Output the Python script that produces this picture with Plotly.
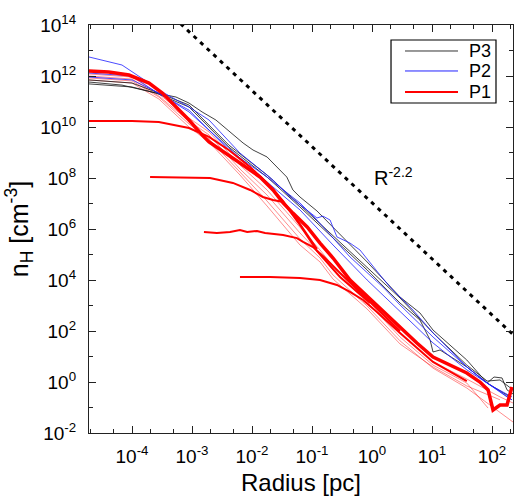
import plotly.graph_objects as go

# ---- data (radius in pc, n_H in cm^-3) ----
# P1: main (thick) profile
p1_main_r = [1.9e-5, 4.1e-5, 8.9e-5, 1.92e-4, 3.2e-4, 5.4e-4, 8.9e-4, 1.47e-3, 1.92e-3, 6.3e-3,
             1.36e-2, 2.24e-2, 3.3e-2, 4.8e-2, 8.3e-2, 0.136, 0.224, 0.43, 0.93, 2.93, 5.6, 10.4,
             20, 38, 63, 86, 104, 136, 178, 215]
p1_main_n = [1.57e12, 1.44e12, 1.09e12, 5.3e11, 2.15e11, 6.1e10, 1.88e10, 4.9e9, 2.58e9, 3.9e8,
             1.09e8, 3.4e7, 1.05e7, 4.2e6, 1.2e6, 2.8e5, 7.3e4, 1.0e4, 1.8e3, 144, 34, 9.5,
             4.6, 2.25, 1.0, 0.49, 0.08, 0.125, 0.125, 0.64]

# P1: truncated profiles (plateaus at 1e10, 1e8, 7e5, 1e4)
p1_a_r = [1.9e-5, 1e-4, 2.8e-4, 8.9e-4, 1.92e-3, 4.1e-3, 9.3e-3, 1.78e-2, 3.3e-2, 6.3e-2, 0.121]
p1_a_n = [1.72e10, 1.72e10, 1.57e10, 9.1e9, 4.1e9, 1.25e9, 2.7e8, 6.4e7, 1.25e7, 1.57e6, 1.64e5]

p1_b_r = [2.0e-4, 2.0e-3, 4.8e-3, 9.3e-3, 1.52e-2, 2.24e-2, 3.3e-2, 6.3e-2, 0.121, 0.293, 0.93]
p1_b_n = [1.09e8, 1.0e8, 6.4e7, 3.4e7, 1.8e7, 1.37e7, 1.15e7, 1.44e6, 1.37e5, 1.31e4, 1.25e3]

p1_c_r = [1.58e-3, 2.6e-3, 4.3e-3, 6.3e-3, 8.3e-3, 1.21e-2, 1.65e-2, 3.3e-2, 5.6e-2, 7.1e-2,
          0.104, 0.165, 0.293, 0.93, 2.93]
p1_c_n = [7.6e5, 7.0e5, 7.6e5, 9.1e5, 7.6e5, 8.4e5, 7.0e5, 5.8e5, 4.4e5, 3.1e5,
          1.97e5, 7.3e4, 1.88e4, 1.37e3, 100]

p1_d_r = [6.3e-3, 2.0e-2, 6.3e-2, 0.136, 0.26, 0.43, 0.71, 1.21, 2.93, 10.4, 38]
p1_d_n = [1.31e4, 1.31e4, 1.2e4, 1.0e4, 6.4e3, 3.4e3, 1.64e3, 560, 84, 6.1, 1.09]

# P1: faint profiles
p1_f1_r = [1.9e-5, 1e-4, 2.8e-4, 8.9e-4, 1.92e-3, 6.3e-3, 1.78e-2, 6.3e-2, 0.136, 0.224, 0.83, 2.93, 10.4, 38, 136, 224]
p1_f1_n = [1.2e12, 9.1e11, 1.97e11, 2.25e10, 6.4e9, 3.2e8, 3.4e7, 1.2e6, 1.5e5, 3.5e4, 1.97e3, 84, 6.1, 1.31, 0.26, 0.15]
p1_f2_r = [1.9e-5, 1e-4, 2.8e-4, 8.9e-4, 1.92e-3, 6.3e-3, 1.78e-2, 6.3e-2, 0.136, 0.224, 0.83, 2.93, 10.4, 38, 86]
p1_f2_n = [1.0e12, 7.6e11, 1.64e11, 1.72e10, 4.9e9, 2.25e8, 2.15e7, 7.0e5, 1.05e5, 2.47e4, 1.37e3, 58, 4.6, 0.91, 0.095]
p1_f3_r = [1.9e-5, 1e-4, 2.8e-4, 8.9e-4, 1.92e-3, 6.3e-3, 1.78e-2, 6.3e-2, 0.136, 0.224, 0.83, 2.93, 10.4, 38, 224]
p1_f3_n = [8.4e11, 6.4e11, 1.5e11, 1.31e10, 3.4e9, 1.72e8, 1.25e7, 4.1e5, 7.3e4, 1.57e4, 955, 41, 3.5, 0.58, 0.027]
p1_f4_r = [1.9e-5, 1e-4, 2.8e-4, 8.9e-4, 1.92e-3, 6.3e-3, 1.78e-2, 6.3e-2, 0.136, 0.224, 0.83, 2.93, 10.4, 38, 136]
p1_f4_n = [7.0e11, 5.3e11, 1.25e11, 1.0e10, 2.58e9, 1.31e8, 8.0e6, 2.36e5, 5.1e4, 1.09e4, 730, 31, 3.9, 0.7, 0.2]

# P2 (blue)
p2_1_r = [1.9e-5, 6.8e-5, 1.92e-4, 3.2e-4, 8.9e-4, 1.92e-3, 6.3e-3, 2.24e-2, 4.3e-2, 8.3e-2, 0.121,
          0.152, 0.2, 0.26, 0.43, 0.63, 0.93, 1.36, 2.0, 2.93, 4.8, 10.4, 20, 38, 71, 104, 215]
p2_1_n = [5.6e12, 2.7e12, 5.3e11, 2.36e11, 6.1e10, 1.88e10, 9.5e8, 8.4e7, 1.8e7, 5.6e6, 2.7e6,
          3.2e6, 2.25e6, 4.9e5, 2.8e5, 1.5e5, 4.6e4, 1.57e4, 5.3e3, 2.15e3, 670, 84, 18, 3.9, 1.2, 0.64, 0.2]
p2_2_r = [1.9e-5, 1e-4, 2.5e-4, 8.9e-4, 4.1e-3, 1.78e-2, 6.3e-2, 0.121, 0.43, 1.52, 2.93, 10.4, 38, 83, 178, 215]
p2_2_n = [1.31e12, 1.0e12, 2.36e11, 4.6e10, 1.25e9, 1.09e8, 1.05e7, 2.25e6, 8.0e4, 5.3e3, 1.05e3, 58, 3.9, 0.91, 0.26, 0.2]
p2_3_r = [1.9e-5, 1e-4, 2.8e-4, 8.9e-4, 4.1e-3, 1.78e-2, 6.3e-2, 0.224, 0.83, 2.93, 10.4, 38, 93, 215]
p2_3_n = [9.1e11, 7.0e11, 2.15e11, 3.9e10, 1.5e9, 7.0e7, 5.6e6, 2.36e5, 1.0e4, 560, 34, 3.0, 0.76, 0.26]

# P3 (black)
p3_1_r = [1.9e-5, 6.8e-5, 2.5e-4, 5.4e-4, 8.9e-4, 1.47e-3, 2.5e-3, 4.8e-3, 7.1e-3, 1.04e-2, 1.78e-2,
          2.6e-2, 3.8e-2, 4.8e-2, 6.3e-2, 0.121, 0.224, 0.43, 0.83, 2.93, 6.3, 10.4, 38, 83, 108, 147, 178, 224]
p3_1_n = [5.8e11, 4.4e11, 2.15e11, 1.5e11, 8.7e10, 3.9e10, 1.88e10, 4.9e9, 2.36e9, 1.25e9, 6.7e8,
          2.7e8, 1.09e8, 3.4e7, 1.8e7, 5.1e6, 1.2e6, 2.36e5, 5.1e4, 2.15e3, 510, 109, 7.3, 0.91, 1.57, 1.44, 0.49, 0.34]
p3_2_r = [1.9e-5, 1e-4, 2.5e-4, 8.9e-4, 4.1e-3, 1.78e-2, 6.3e-2, 0.224, 0.83, 2.93, 6.3, 9.3, 10.4, 13.6, 38, 83, 200]
p3_2_n = [4.9e11, 3.7e11, 2.15e11, 6.1e10, 1.64e9, 1.09e8, 7.3e6, 4.4e5, 2.47e4, 1.25e3, 270, 44, 15, 18, 3.9, 0.91, 0.26]
p3_3_r = [1.9e-5, 1e-4, 2.8e-4, 8.9e-4, 4.1e-3, 1.78e-2, 6.3e-2, 0.224, 0.83, 2.93, 10.4, 38, 83, 136, 224]
p3_3_n = [7.0e11, 5.3e11, 2.15e11, 7.3e10, 1.97e9, 1.31e8, 8.7e6, 5.3e5, 3.0e4, 1.97e3, 84, 4.6, 1.09, 1.2, 0.49]

# R^-2.2 guide line end points
guide_r = [5e-4, 250]
guide_n = [1.96e14, 57]

y_exp = [-2, 0, 2, 4, 6, 8, 10, 12, 14]
x_exp = [-4, -3, -2, -1, 0, 1, 2]

legend_names = ["P3", "P2", "P1"]

FONT = "Liberation Sans, Arial, sans-serif"

fig = go.Figure()


def add(r, n, color, width, name=None):
    fig.add_trace(go.Scatter(
        x=r, y=n, mode="lines", line=dict(color=color, width=width),
        name=name or "", showlegend=False, hoverinfo="skip"))


faint_red = "rgba(255,0,0,0.45)"
for r, n in [(p1_f1_r, p1_f1_n), (p1_f2_r, p1_f2_n), (p1_f3_r, p1_f3_n), (p1_f4_r, p1_f4_n)]:
    add(r, n, faint_red, 1, "P1")

black = "rgba(20,20,20,0.8)"
add(p3_1_r, p3_1_n, black, 1, "P3")
add(p3_2_r, p3_2_n, black, 1, "P3")
add(p3_3_r, p3_3_n, black, 1, "P3")

blue = "rgba(30,30,255,0.8)"
add(p2_1_r, p2_1_n, blue, 1, "P2")
add(p2_2_r, p2_2_n, blue, 1, "P2")
add(p2_3_r, p2_3_n, blue, 1, "P2")

red = "#ff0000"
add(p1_a_r, p1_a_n, red, 2, "P1")
add(p1_b_r, p1_b_n, red, 2, "P1")
add(p1_c_r, p1_c_n, red, 2, "P1")
add(p1_d_r, p1_d_n, red, 2, "P1")
add(p1_main_r, p1_main_n, red, 3.5, "P1")

fig.add_trace(go.Scatter(
    x=guide_r, y=guide_n, mode="lines", showlegend=False, hoverinfo="skip",
    line=dict(color="black", width=3, dash="4px,5px")))

fig.add_annotation(x=0, y=8.05, xref="x", yref="y", text="R<sup>-2.2</sup>",
                   showarrow=False, xanchor="left", yanchor="middle",
                   font=dict(family=FONT, size=20, color="black"))

# boxed legend in the top-right corner (paper coordinates)
fig.add_shape(type="rect", xref="paper", yref="paper", x0=0.7123, x1=0.9599, y0=0.8088, y1=0.9632,
              line=dict(color="black", width=1.2), fillcolor="white", layer="above")
for name, color, width, yp in zip(legend_names, ["#333333", "#2020ff", "#ff0000"], [1, 1, 2],
                                  [0.9363, 0.8873, 0.8358]):
    fig.add_shape(type="line", xref="paper", yref="paper", x0=0.7453, x1=0.8703, y0=yp, y1=yp,
                  line=dict(color=color, width=width), layer="above")
    fig.add_annotation(x=0.8915, y=yp, xref="paper", yref="paper", text=name, showarrow=False,
                       xanchor="left", yanchor="middle",
                       font=dict(family=FONT, size=18, color="black"))

x_minor = [m * 10 ** e for e in range(-5, 3) for m in (2, 5)]
y_minor = [10 ** e for e in range(-1, 14, 2)]

axis_common = dict(
    type="log", showgrid=False, zeroline=False, showline=True,
    linecolor="#222", linewidth=1.2, mirror="allticks",
    ticks="inside", ticklen=7, tickwidth=1, tickcolor="#222",
    tickfont=dict(family=FONT, size=19, color="black"),
)

fig.update_xaxes(
    **axis_common,
    range=[-4.717, 2.35],
    tickmode="array", tickvals=[10 ** e for e in x_exp],
    ticktext=[f"10<sup>{e}</sup>" for e in x_exp],
    minor=dict(tickmode="array", tickvals=x_minor, ticks="inside", ticklen=4, tickcolor="#222"),
    ticklabelstandoff=6,
    title=dict(text="Radius [pc]", font=dict(family=FONT, size=24, color="black"), standoff=8),
)
fig.update_yaxes(
    **axis_common,
    range=[-2, 14],
    tickmode="array", tickvals=[10 ** e for e in y_exp],
    ticktext=[f"10<sup>{e}</sup>" for e in y_exp],
    minor=dict(tickmode="array", tickvals=y_minor, ticks="inside", ticklen=4, tickcolor="#222"),
    ticklabelstandoff=8,
    title=dict(text="n<sub>H</sub> [cm<sup>-3</sup>]", font=dict(family=FONT, size=25, color="black"), standoff=4),
)

fig.update_layout(
    width=514, height=500,
    margin=dict(l=89, r=1, t=25, b=67, autoexpand=False),
    paper_bgcolor="white", plot_bgcolor="white",
    font=dict(family=FONT, color="black"),
    showlegend=False,
)

fig.write_html("out.html", config={"displayModeBar": False},
               post_script="document.body.style.margin='0';")
